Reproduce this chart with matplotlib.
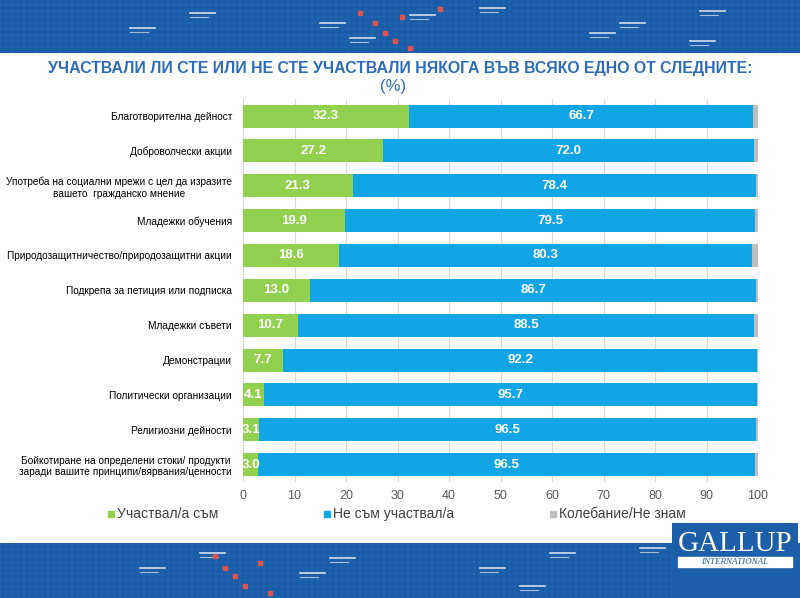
import numpy as np
import matplotlib
matplotlib.use("Agg")
import matplotlib.pyplot as plt
from matplotlib.patches import Rectangle

categories = [
    "Благотворителна дейност",
    "Доброволчески акции",
    "Употреба на социални мрежи с цел да изразите\nвашето  гражданско мнение",
    "Младежки обучения",
    "Природозащитничество/природозащитни акции",
    "Подкрепа за петиция или подписка",
    "Младежки съвети",
    "Демонстрации",
    "Политически организации",
    "Религиозни дейности",
    "Бойкотиране на определени стоки/ продукти\nзаради вашите принципи/вярвания/ценности",
]
participated = [32.3, 27.2, 21.3, 19.9, 18.6, 13.0, 10.7, 7.7, 4.1, 3.1, 3.0]
not_participated = [66.7, 72.0, 78.4, 79.5, 80.3, 86.7, 88.5, 92.2, 95.7, 96.5, 96.5]
undecided = [1.0, 0.8, 0.3, 0.6, 1.1, 0.3, 0.8, 0.1, 0.2, 0.4, 0.5]
series_names = ["Участвал/а съм", "Не съм участвал/а", "Колебание/Не знам"]
xticks = [0, 10, 20, 30, 40, 50, 60, 70, 80, 90, 100]

title = "УЧАСТВАЛИ ЛИ СТЕ ИЛИ НЕ СТЕ УЧАСТВАЛИ НЯКОГА ВЪВ ВСЯКО ЕДНО ОТ СЛЕДНИТЕ:"

GREEN = "#92D050"
BLUE = "#12A5E6"
GREY = "#BFBFBF"
BANNER = "#1B5CA8"
SANS = ["Liberation Sans", "DejaVu Sans"]
SERIF = ["Liberation Serif", "DejaVu Serif"]

fig = plt.figure(figsize=(8, 5.98), dpi=100)
renderer = fig.canvas.get_renderer()


def fit(t, target_px):
    # shrink/grow a text so it spans target_px
    w = t.get_window_extent(renderer).width
    t.set_fontsize(t.get_fontsize() * target_px / w)


# banners (decorative)
def banner(y0, h):
    bax = fig.add_axes([0, y0, 1, h])
    bax.set_xlim(0, 800)
    bax.set_ylim(0, h * 598)
    bax.add_patch(Rectangle((0, 0), 800, h * 598, color=BANNER))
    for gx in np.arange(0, 800, 6):
        bax.axvline(gx, color="#3E7CC0", lw=0.3, alpha=0.6)
    for gy in np.arange(0, h * 598, 6):
        bax.axhline(gy, color="#3E7CC0", lw=0.3, alpha=0.6)
    bax.axis("off")
    return bax


top = banner(1 - 53 / 598, 53 / 598)
for x, y in [(190, 40), (130, 25), (320, 30), (350, 15), (410, 38), (480, 45), (620, 30), (700, 42), (590, 20), (690, 12)]:
    top.plot([x, x + 25], [y, y], color="white", lw=1.2, alpha=0.8)
    top.plot([x, x + 18], [y - 4, y - 4], color="white", lw=0.8, alpha=0.6)
for x, y in [(375, 30), (385, 20), (395, 12), (402, 36), (410, 5), (440, 44), (360, 40)]:
    top.plot(x, y, "s", color="#D9534F", ms=2.5)

bot = banner(0, 55 / 598)
for x, y in [(200, 45), (140, 30), (330, 40), (300, 25), (480, 30), (550, 45), (520, 12), (640, 50)]:
    bot.plot([x, x + 25], [y, y], color="white", lw=1.2, alpha=0.8)
    bot.plot([x, x + 18], [y - 4, y - 4], color="white", lw=0.8, alpha=0.6)
for x, y in [(215, 42), (225, 30), (235, 22), (245, 12), (260, 35), (270, 5)]:
    bot.plot(x, y, "s", color="#D9534F", ms=2.5)

# logo
lax = fig.add_axes([672 / 800, 0, 126 / 800, 75 / 598])
lax.set_xlim(0, 126)
lax.set_ylim(0, 75)
lax.add_patch(Rectangle((0, 0), 126, 75, color="#1D5EA9"))
lax.text(63, 54, "GALLUP", color="white", fontsize=21, family=SERIF, ha="center", va="center")
lax.add_patch(Rectangle((6, 31), 114, 10, color="white"))
lax.text(63, 36, "INTERNATIONAL", color="#1D5EA9", fontsize=6.5, style="italic",
         family=SERIF, ha="center", va="center")
lax.axis("off")

# title
tt = fig.text(400 / 800, 1 - 68 / 598, title, ha="center", va="center", color="#2C6DB6",
              fontsize=12, fontweight="bold", family=SANS)
fit(tt, 705)
fig.text(393 / 800, 1 - 87 / 598, "(%)", ha="center", va="center", color="#2C6DB6",
         fontsize=tt.get_fontsize() + 0.5, family=SANS)

# chart
ax = fig.add_axes([243 / 800, 116 / 598, 515 / 800, 383.4 / 598])
y = np.arange(len(categories))
h = 0.66
p = np.array(participated)
n = np.array(not_participated)
u = np.array(undecided)
ax.barh(y, p, height=h, color=GREEN, zorder=2)
ax.barh(y, n, left=p, height=h, color=BLUE, zorder=2)
ax.barh(y, u, left=p + n, height=h, color=GREY, zorder=2)
for i in range(len(y)):
    ax.text(p[i] / 2, y[i], f"{p[i]:.1f}", ha="center", va="center", color="white",
            fontsize=9.5, fontweight="bold", family=SANS, zorder=3)
    ax.text(p[i] + n[i] / 2, y[i], f"{n[i]:.1f}", ha="center", va="center", color="white",
            fontsize=9.5, fontweight="bold", family=SANS, zorder=3)

ax.set_ylim(len(categories) - 0.5, -0.5)
ax.set_xlim(0, 100)
ax.set_xticks(xticks)
ax.set_xticklabels([str(t) for t in xticks], color="#595959", fontsize=9, family=SANS)
ax.set_yticks(y)
labs = ax.set_yticklabels(categories, fontsize=8.5, family=SANS, color="#000000",
                          multialignment="center")
ax.tick_params(length=0, pad=8)
ax.tick_params(axis="x", pad=6)
ax.grid(axis="x", color="#D9D9D9", lw=0.8, zorder=0)
for s in ax.spines.values():
    s.set_visible(False)

fit(labs[4], 226)
for lb in labs:
    lb.set_fontsize(labs[4].get_fontsize())

# legend, laid out by hand like the original
leg_y = 1 - 514 / 598
for name, col, x0 in zip(series_names, (GREEN, BLUE, GREY), (108, 324, 550)):
    fig.patches.append(Rectangle((x0 / 800, leg_y - 3 / 598), 6 / 800, 6 / 598,
                                 color=col, transform=fig.transFigure, figure=fig))
    fig.text((x0 + 9) / 800, leg_y, name, ha="left", va="center", color="#404040",
             fontsize=10, family=SANS)

fig.savefig("out.png", dpi=100)
